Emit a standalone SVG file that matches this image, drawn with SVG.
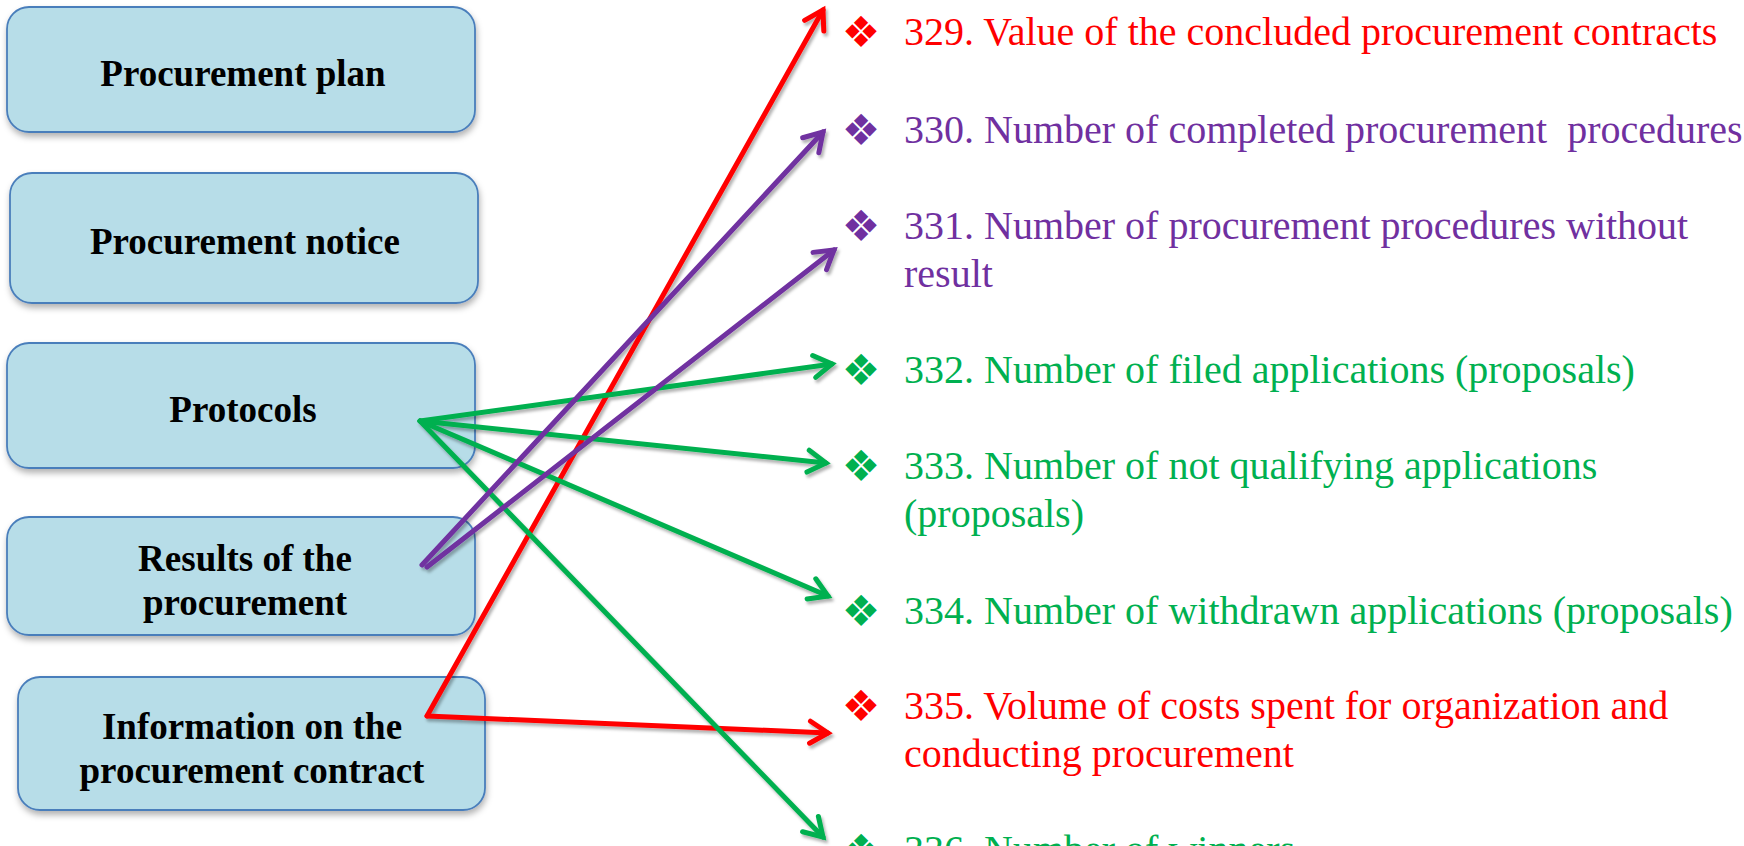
<svg xmlns="http://www.w3.org/2000/svg" width="1744" height="846" viewBox="0 0 1744 846">
<style>
.box{fill:#b7dde8;stroke:#4a7ebb;stroke-width:1.8}
.bt{font-family:"Liberation Serif","Times New Roman",serif;font-weight:bold;font-size:37px;fill:#000;text-anchor:middle}
.it{font-family:"Liberation Serif","Times New Roman",serif;font-size:40px;white-space:pre}
.bu{font-family:"DejaVu Sans",sans-serif;font-size:43px;text-anchor:middle}
.red{fill:#ff0000}.pur{fill:#7030a0}.grn{fill:#00b050}
.ln{fill:none;stroke-width:5;stroke-linecap:round}
.lr{stroke:#ff0000;marker-end:url(#mr)}
.lg{stroke:#00b050;marker-end:url(#mg)}
.lp{stroke:#7030a0;marker-end:url(#mp)}
</style>
<defs>
<filter id="sh" x="-10%" y="-10%" width="130%" height="140%">
<feDropShadow dx="1" dy="4" stdDeviation="3" flood-color="#000" flood-opacity="0.3"/>
</filter>
<filter id="lsh" x="-10%" y="-10%" width="120%" height="120%">
<feDropShadow dx="2" dy="3" stdDeviation="1.5" flood-color="#000" flood-opacity="0.3"/>
</filter>
<marker id="mr" markerUnits="userSpaceOnUse" viewBox="-30 -20 40 40" markerWidth="40" markerHeight="40" refX="0" refY="0" orient="auto" overflow="visible">
<path d="M-18,-11 L0,0 L-18,11" fill="none" stroke="#ff0000" stroke-width="5" stroke-linecap="round" stroke-linejoin="miter"/>
</marker>
<marker id="mg" markerUnits="userSpaceOnUse" viewBox="-30 -20 40 40" markerWidth="40" markerHeight="40" refX="0" refY="0" orient="auto" overflow="visible">
<path d="M-18,-11 L0,0 L-18,11" fill="none" stroke="#00b050" stroke-width="5" stroke-linecap="round" stroke-linejoin="miter"/>
</marker>
<marker id="mp" markerUnits="userSpaceOnUse" viewBox="-30 -20 40 40" markerWidth="40" markerHeight="40" refX="0" refY="0" orient="auto" overflow="visible">
<path d="M-18,-11 L0,0 L-18,11" fill="none" stroke="#7030a0" stroke-width="5" stroke-linecap="round" stroke-linejoin="miter"/>
</marker>
</defs>
<rect width="1744" height="846" fill="#ffffff"/>

<g id="node-plan">
<rect class="box" x="7" y="7" width="468" height="125" rx="22" filter="url(#sh)"/>
<text class="bt" x="243" y="86">Procurement plan</text>
</g>
<g id="node-notice">
<rect class="box" x="10" y="173" width="468" height="130" rx="22" filter="url(#sh)"/>
<text class="bt" x="245" y="254">Procurement notice</text>
</g>
<g id="node-protocols">
<rect class="box" x="7" y="343" width="468" height="125" rx="22" filter="url(#sh)"/>
<text class="bt" x="243" y="422">Protocols</text>
</g>
<g id="node-results">
<rect class="box" x="7" y="517" width="468" height="118" rx="22" filter="url(#sh)"/>
<text class="bt" x="245" y="571">Results of the</text>
<text class="bt" x="245" y="615">procurement</text>
</g>
<g id="node-contract">
<rect class="box" x="18" y="677" width="467" height="133" rx="22" filter="url(#sh)"/>
<text class="bt" x="252" y="739">Information on the</text>
<text class="bt" x="252" y="783">procurement contract</text>
</g>

<g id="items">
<g id="item-329"><text class="bu red" x="861" y="47">❖</text><text class="it red" x="904" y="45">329. Value of the concluded procurement contracts</text></g>
<g id="item-330"><text class="bu pur" x="861" y="145">❖</text><text class="it pur" x="904" y="143">330. Number of completed procurement  procedures</text></g>
<g id="item-331"><text class="bu pur" x="861" y="241">❖</text><text class="it pur" x="904" y="239">331. Number of procurement procedures without</text><text class="it pur" x="904" y="287">result</text></g>
<g id="item-332"><text class="bu grn" x="861" y="385">❖</text><text class="it grn" x="904" y="383">332. Number of filed applications (proposals)</text></g>
<g id="item-333"><text class="bu grn" x="861" y="481">❖</text><text class="it grn" x="904" y="479">333. Number of not qualifying applications</text><text class="it grn" x="904" y="527">(proposals)</text></g>
<g id="item-334"><text class="bu grn" x="861" y="626">❖</text><text class="it grn" x="904" y="624">334. Number of withdrawn applications (proposals)</text></g>
<g id="item-335"><text class="bu red" x="861" y="721">❖</text><text class="it red" x="904" y="719">335. Volume of costs spent for organization and</text><text class="it red" x="904" y="767">conducting procurement</text></g>
<g id="item-336"><text class="bu grn" x="861" y="865">❖</text><text class="it grn" x="904" y="863">336. Number of winners</text></g>
</g>

<g id="connectors" filter="url(#lsh)">
<line class="ln lr" x1="427" y1="716" x2="823" y2="10"/>
<line class="ln lr" x1="427" y1="716" x2="828" y2="733"/>
<line class="ln lg" x1="420" y1="421" x2="832" y2="364"/>
<line class="ln lg" x1="420" y1="421" x2="826" y2="463"/>
<line class="ln lg" x1="420" y1="421" x2="828" y2="596"/>
<line class="ln lg" x1="420" y1="421" x2="823" y2="837"/>
<line class="ln lp" x1="422" y1="565" x2="823" y2="132"/>
<line class="ln lp" x1="427" y1="567" x2="834" y2="250"/>
</g>
</svg>
